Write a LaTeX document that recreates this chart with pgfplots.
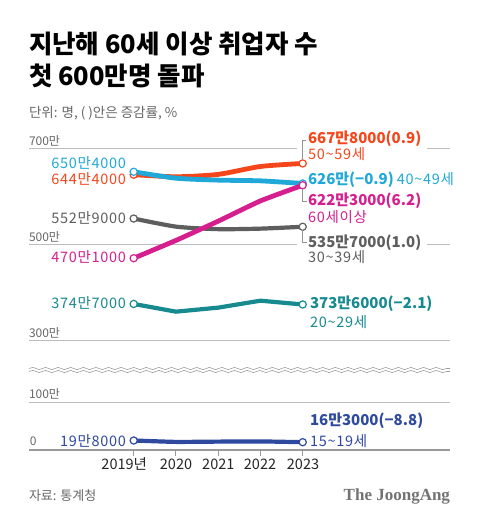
\documentclass[border=0pt]{standalone}
\usepackage{fontspec}
\setmainfont{Noto Sans CJK KR}
\newfontfamily\brandfont{Liberation Serif}
\usepackage{pgfplots}
\pgfplotsset{compat=1.18}
\usetikzlibrary{decorations.pathmorphing}
\definecolor{cOr}{HTML}{F5461B}
\definecolor{cCy}{HTML}{1FA8D8}
\definecolor{cGr}{HTML}{5E5E5E}
\definecolor{cPk}{HTML}{D61F8F}
\definecolor{cTl}{HTML}{168A8F}
\definecolor{cNv}{HTML}{2E4A9E}
\definecolor{cGrid}{HTML}{BDBDBD}
\definecolor{cTxt}{HTML}{666666}
\newcommand{\fs}[1]{\fontsize{#1}{#1}\selectfont}
\newcommand{\rg}{\fs{14.5}\addfontfeatures{LetterSpace=5}}
\newcommand{\bd}{\fs{15}\bfseries}
\tikzset{t/.style={inner sep=0pt, outer sep=0pt}}
\begin{document}
\begin{tikzpicture}
\useasboundingbox (0pt,0pt) rectangle (480pt,-523pt);
% title
\node[t, anchor=base west] at (29pt,-53pt) {\fs{25.5}\bfseries 지난해 60세 이상 취업자 수};
\node[t, anchor=base west] at (29pt,-85pt) {\fs{25.5}\bfseries 첫 600만명 돌파};
\node[t, anchor=base west, text=cTxt] at (29pt,-117pt) {\fs{13.5}단위: 명, ( )안은 증감률, \%};
% grid lines
\draw[cGrid, line width=0.9pt] (29pt,-148pt) -- (297pt,-148pt) (427pt,-148pt) -- (450pt,-148pt);
\draw[cGrid, line width=0.9pt] (29pt,-244pt) -- (297pt,-244pt) (427pt,-244pt) -- (450pt,-244pt);
\draw[cGrid, line width=0.9pt] (29pt,-340pt) -- (450pt,-340pt);
\draw[cGrid, line width=0.9pt] (29pt,-402pt) -- (450pt,-402pt);
\draw[gray!80, line width=1.4pt] (29pt,-450pt) -- (450pt,-450pt);
% axis break
\draw[gray!75, line width=0.6pt, decorate, decoration={snake, amplitude=1.1pt, segment length=12.6pt}] (29pt,-368.5pt) -- (450pt,-368.5pt);
\draw[gray!75, line width=0.6pt, decorate, decoration={snake, amplitude=1.1pt, segment length=12.6pt}] (29pt,-371.5pt) -- (450pt,-371.5pt);
% y labels
\node[t, anchor=base west, text=cTxt] at (29pt,-145pt) {\fs{12}700만};
\node[t, anchor=base west, text=cTxt] at (29pt,-241pt) {\fs{12}500만};
\node[t, anchor=base west, text=cTxt] at (29pt,-337pt) {\fs{12}300만};
\node[t, anchor=base west, text=cTxt] at (29pt,-398pt) {\fs{12}100만};
\node[t, anchor=base west, text=cTxt] at (30pt,-445pt) {\fs{12}0};
\begin{axis}[at={(29pt,-450pt)}, anchor=south west, scale only axis,
  width=421pt, height=302pt, xmin=2016.522, xmax=2026.486, ymin=0, ymax=630,
  hide axis, clip=false,
  y filter/.expression={y>200 ? y-70 : y}]
\addplot[cGr, line width=4.2pt, smooth, tension=0.4, mark=*, mark indices={1,5}, mark size=3.6pt,
  mark options={fill=white, draw=cGr, line width=1.2pt}]
  coordinates {(2019,552.9)(2020,536.0)(2021,530.7)(2022,531.8)(2023,535.7)};
\addplot[cOr, line width=4.8pt, smooth, tension=0.4, mark=*, mark indices={1,5}, mark size=3.6pt,
  mark options={fill=white, draw=cOr, line width=1.2pt}]
  coordinates {(2019,644.4)(2020,640.0)(2021,645.0)(2022,661.5)(2023,667.8)};
\addplot[cCy, line width=4.8pt, smooth, tension=0.4, mark=*, mark indices={1,5}, mark size=3.6pt,
  mark options={fill=white, draw=cCy, line width=1.2pt}]
  coordinates {(2019,650.4)(2020,637.0)(2021,633.0)(2022,631.5)(2023,626.0)};
\addplot[cPk, line width=4.8pt, smooth, tension=0.3, mark=*, mark indices={1,5}, mark size=3.6pt,
  mark options={fill=white, draw=cPk, line width=1.2pt}]
  coordinates {(2019,470.1)(2020,507.3)(2021,547.4)(2022,589.7)(2023,622.3)};
\addplot[cTl, line width=4.2pt, mark=*, mark indices={1,5}, mark size=3.6pt,
  mark options={fill=white, draw=cTl, line width=1.2pt}]
  coordinates {(2019,374.7)(2020,358.6)(2021,367.0)(2022,381.5)(2023,373.6)};
\addplot[cNv, line width=4.2pt, smooth, tension=0.3, mark=*, mark indices={1,5}, mark size=3.6pt,
  mark options={fill=white, draw=cNv, line width=1.2pt}]
  coordinates {(2019,19.8)(2020,16.9)(2021,17.5)(2022,17.9)(2023,16.3)};
% year ticks
\draw[gray!80, line width=1pt] (axis cs:2019,0) -- ++(0pt,-6pt);
\draw[gray!80, line width=1pt] (axis cs:2020,0) -- ++(0pt,-6pt);
\draw[gray!80, line width=1pt] (axis cs:2021,0) -- ++(0pt,-6pt);
\draw[gray!80, line width=1pt] (axis cs:2022,0) -- ++(0pt,-6pt);
\draw[gray!80, line width=1pt] (axis cs:2023,0) -- ++(0pt,-6pt);
\end{axis}
% year labels
\node[t, anchor=base east, text=black!85] at (147pt,-469pt) {\fs{14.5}2019년};
\node[t, anchor=base, text=black!85] at (176pt,-469pt) {\fs{14.5}2020};
\node[t, anchor=base, text=black!85] at (218.3pt,-469pt) {\fs{14.5}2021};
\node[t, anchor=base, text=black!85] at (260pt,-469pt) {\fs{14.5}2022};
\node[t, anchor=base, text=black!85] at (303pt,-469pt) {\fs{14.5}2023};
% left labels
\node[t, anchor=base east, text=cCy] at (126pt,-168pt) {\rg 650만4000};
\node[t, anchor=base east, text=cOr] at (126pt,-184pt) {\rg 644만4000};
\node[t, anchor=base east, text=cGr] at (126pt,-223pt) {\rg 552만9000};
\node[t, anchor=base east, text=cPk] at (126pt,-262pt) {\rg 470만1000};
\node[t, anchor=base east, text=cTl] at (126pt,-308pt) {\rg 374만7000};
\node[t, anchor=base east, text=cNv] at (126pt,-446pt) {\rg 19만8000};
% brackets
\draw[gray!85, line width=0.7pt] (306pt,-140pt) -- (302.7pt,-140pt) -- (302.7pt,-160pt);
\draw[gray!85, line width=0.7pt] (302.7pt,-189pt) -- (302.7pt,-201pt) -- (307pt,-201pt);
\draw[gray!85, line width=0.7pt] (302.7pt,-230pt) -- (302.7pt,-242pt) -- (307pt,-242pt);
% right labels
\node[t, anchor=base west, text=cOr] at (308pt,-143pt) {\bd 667만8000(0.9)};
\node[t, anchor=base west, text=cOr] at (308pt,-159pt) {\rg 50\textasciitilde 59세};
\node[t, anchor=base west, text=cCy] at (308pt,-184pt) {{\bd 626만(−0.9)}\hspace{3pt}{\rg 40\textasciitilde 49세}};
\node[t, anchor=base west, text=cPk] at (308pt,-205pt) {\bd 622만3000(6.2)};
\node[t, anchor=base west, text=cPk] at (308pt,-222pt) {\rg 60세이상};
\node[t, anchor=base west, text=cGr] at (308pt,-247pt) {\bd 535만7000(1.0)};
\node[t, anchor=base west, text=cGr] at (308pt,-262pt) {\rg 30\textasciitilde 39세};
\node[t, anchor=base west, text=cTl] at (310pt,-308pt) {\bd 373만6000(−2.1)};
\node[t, anchor=base west, text=cTl] at (310pt,-327pt) {\rg 20\textasciitilde 29세};
\node[t, anchor=base west, text=cNv] at (310pt,-425pt) {\bd 16만3000(−8.8)};
\node[t, anchor=base west, text=cNv] at (310pt,-446pt) {\rg 15\textasciitilde 19세};
% footer
\node[t, anchor=base west, text=cTxt] at (29pt,-500pt) {\fs{13}자료: 통계청};
\node[t, anchor=base east, text=black!55] at (450pt,-500pt) {\fs{17}\brandfont\bfseries The JoongAng};
\end{tikzpicture}
\end{document}
